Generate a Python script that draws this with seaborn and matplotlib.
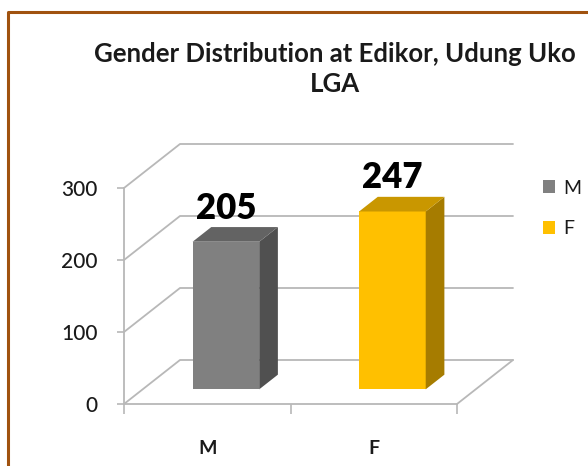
import matplotlib.pyplot as plt
import seaborn as sns
from matplotlib.patches import Polygon, Patch
from matplotlib.lines import Line2D

# data
categories = ["M", "F"]
counts = [205, 247]
yticks = [0, 100, 200, 300]
title = "Gender Distribution at Edikor, Udung Uko\nLGA"

# colours (front, side, top faces)
front_colors = ["#808080", "#ffc000"]
side_colors = ["#505050", "#a67c00"]
top_colors = ["#636363", "#c99700"]
GRID = "#b8b8b8"
TEXT = "#1a1a1a"

sns.set_style("white")
plt.rcParams["font.family"] = ["Lato", "DejaVu Sans"]

# fake 3d depth of the floor, in data units (x: categories, y: counts)
DX = 56 / 166.5
DY = 44 / 0.72
F0, F1 = 1 / 3, 2 / 3   # bars sit in the middle third of the depth

fig = plt.figure(figsize=(5.88, 4.66), dpi=100)
ax = fig.add_axes([124 / 588, 62 / 466, 333 / 588, 216 / 466])

sns.barplot(x=categories, y=counts, hue=categories, palette=front_colors,
            width=0.4, saturation=1, legend=False, ax=ax, zorder=3)
ax.set_xlim(-0.5, 1.5)
ax.set_ylim(0, 300)

# back wall + side wall gridlines
x_left, x_right = ax.get_xlim()
for t in yticks:
    ax.add_line(Line2D([x_left, x_left + DX, x_right + DX], [t, t + DY, t + DY],
                       color=GRID, lw=1.3, clip_on=False, zorder=1))
# right edge of the floor
ax.add_line(Line2D([x_right, x_right + DX], [0, DY], color=GRID, lw=1.3,
                   clip_on=False, zorder=1))

# turn flat bars into boxes
bars = sorted(ax.patches, key=lambda p: p.get_x())
d = F1 - F0
for p, v, sc, tc in zip(bars, counts, side_colors, top_colors):
    x0 = p.get_x() + F0 * DX
    y0 = F0 * DY
    w = p.get_width()
    h = p.get_height()
    p.set_x(x0)
    p.set_y(y0)
    p.set_edgecolor("none")
    p.set_clip_on(False)
    side = [(x0 + w, y0), (x0 + w + d * DX, y0 + d * DY),
            (x0 + w + d * DX, y0 + h + d * DY), (x0 + w, y0 + h)]
    top = [(x0, y0 + h), (x0 + d * DX, y0 + h + d * DY),
           (x0 + w + d * DX, y0 + h + d * DY), (x0 + w, y0 + h)]
    ax.add_patch(Polygon(side, closed=True, facecolor=sc, edgecolor="none",
                         clip_on=False, zorder=3))
    ax.add_patch(Polygon(top, closed=True, facecolor=tc, edgecolor="none",
                         clip_on=False, zorder=3))
    ax.annotate(str(v), xy=(x0 + w / 2, y0 + h + d * DY), xytext=(0, 6),
                textcoords="offset points", ha="center", va="baseline",
                fontsize=25, fontweight="heavy", color="black")

# axes styling
for s in ["top", "right"]:
    ax.spines[s].set_visible(False)
for s in ["left", "bottom"]:
    ax.spines[s].set_color(GRID)
    ax.spines[s].set_linewidth(1.3)
ax.set_yticks(yticks)
ax.set_xticks([-0.5, 0.5, 1.5], minor=True)
ax.tick_params(axis="y", length=5, width=1.2, color=GRID, pad=14,
               labelsize=15, labelcolor=TEXT, left=True)
ax.tick_params(axis="x", which="major", length=0, pad=26, labelsize=14,
               labelcolor=TEXT)
ax.tick_params(axis="x", which="minor", length=7, width=1.2, color=GRID,
               bottom=True)
for lab in ax.get_xticklabels():
    lab.set_fontweight("bold")
for lab in ax.get_yticklabels():
    lab.set_fontweight("medium")
ax.set_xlabel("")
ax.set_ylabel("")

# title
fig.text(335 / 588, 1 - 68.5 / 466, title, ha="center", va="center",
         fontsize=18.5, fontweight="bold", color=TEXT, linespacing=1.3)

# legend
handles = [Patch(facecolor=c, edgecolor="none") for c in front_colors]
fig.legend(handles, categories, loc="upper left",
           bbox_to_anchor=(535 / 588, 1 - 172 / 466), frameon=False,
           handlelength=0.65, handleheight=0.65, handletextpad=0.4,
           labelspacing=1.2, fontsize=14, borderaxespad=0,
           labelcolor=TEXT)

# chart border (only left and top visible in the crop)
fig.add_artist(Line2D([8 / 588, 8 / 588, 1], [0, 1 - 12 / 466, 1 - 12 / 466],
                      transform=fig.transFigure, color="#a0520f", lw=2.2))

fig.savefig("out.png", dpi=100)
